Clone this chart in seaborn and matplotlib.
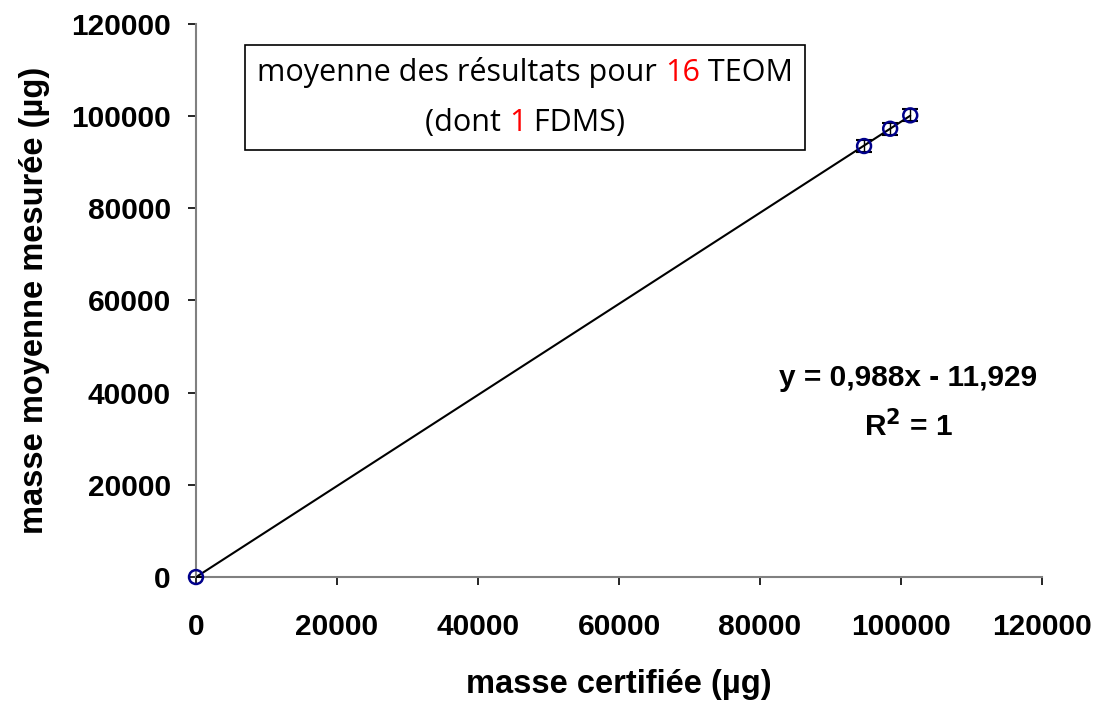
import numpy as np
import pandas as pd
import matplotlib
matplotlib.use("Agg")
import matplotlib.pyplot as plt
import seaborn as sns
from matplotlib.offsetbox import TextArea, HPacker, VPacker, AnchoredOffsetbox

# Certified vs. measured mass (µg)
masse_certifiee = [0, 94750, 98450, 101300]
masse_mesuree = [0, 93500, 97250, 100150]
ecart_type = [0, 1300, 1300, 1300]

# Linear trend reported on the chart
pente = 0.988
ordonnee = -11.929
r2 = 1

x_ticks = [0, 20000, 40000, 60000, 80000, 100000, 120000]
y_ticks = [0, 20000, 40000, 60000, 80000, 100000, 120000]

sns.set_theme(style="white")
plt.rcParams["font.family"] = ["Liberation Sans", "DejaVu Sans"]
plt.rcParams["text.color"] = "black"
plt.rcParams["axes.labelcolor"] = "black"
plt.rcParams["xtick.color"] = "black"
plt.rcParams["ytick.color"] = "black"

fig = plt.figure(figsize=(11.01, 7.02), dpi=100)
ax = fig.add_axes([0.178, 0.178, 0.7685, 0.788])

df = pd.DataFrame({"x": masse_certifiee, "y": masse_mesuree})

# trend line over the data range
xs = np.array([min(masse_certifiee), max(masse_certifiee)])
trend = pd.DataFrame({"x": xs, "y": pente * xs + ordonnee})
sns.lineplot(data=trend, x="x", y="y", color="black", linewidth=1.5, ax=ax, zorder=2)

ax.errorbar(masse_certifiee, masse_mesuree, yerr=ecart_type, fmt="none",
            ecolor="black", elinewidth=1.0, capsize=6, capthick=1.5, zorder=3)
sns.scatterplot(data=df, x="x", y="y", marker="o", s=100, facecolor="none",
                edgecolor="#00008B", linewidth=1.8, ax=ax, zorder=4, clip_on=False)

ax.set_xlim(0, 120000)
ax.set_ylim(0, 120000)
ax.set_xticks(x_ticks)
ax.set_yticks(y_ticks)
ax.set_xticklabels([str(v) for v in x_ticks], fontsize=21.5, fontweight="bold")
ax.set_yticklabels([str(v) for v in y_ticks], fontsize=21.5, fontweight="bold")
ax.tick_params(axis="both", direction="out", length=6, width=1.2,
               bottom=True, left=True)
for t in ax.xaxis.get_ticklines() + ax.yaxis.get_ticklines():
    t.set_color("#808080")
ax.tick_params(axis="x", pad=20)
ax.tick_params(axis="y", pad=12)

for side in ["top", "right"]:
    ax.spines[side].set_visible(False)
for side in ["left", "bottom"]:
    ax.spines[side].set_color("#808080")
    ax.spines[side].set_linewidth(1.5)

ax.set_xlabel("masse certifiée (µg)", fontsize=23.5, fontweight="bold", labelpad=20)
ax.set_ylabel("masse moyenne mesurée (µg)", fontsize=23.5, fontweight="bold", labelpad=15)

# regression equation
ax.text(0.8416, 0.36, f"y = {pente:.3f}x - 11,929".replace(".", ","),
        transform=ax.transAxes, ha="center", va="center", fontsize=21.5, fontweight="bold")
ax.text(0.8416, 0.273, r"R$^\mathbf{2}$ = " + str(r2),
        transform=ax.transAxes, ha="center", va="center", fontsize=21.5, fontweight="bold")

# boxed note with highlighted counts
props = dict(fontsize=22, family=["Open Sans", "DejaVu Sans"])
def piece(s, color="black"):
    return TextArea(s, textprops=dict(color=color, **props))

line1 = HPacker(children=[piece("moyenne des résultats pour "), piece("16", "red"),
                          piece(" TEOM")], align="baseline", pad=0, sep=0)
line2 = HPacker(children=[piece("(dont "), piece("1", "red"), piece(" FDMS)")],
                align="baseline", pad=0, sep=0)
block = VPacker(children=[line1, line2], align="center", pad=0, sep=14)
box = AnchoredOffsetbox(loc="center", child=block, pad=0.45, frameon=True,
                        bbox_to_anchor=(0.477, 0.861), bbox_transform=fig.transFigure,
                        borderpad=0, prop=dict(size=20))
box.patch.set_edgecolor("black")
box.patch.set_linewidth(1.2)
box.patch.set_boxstyle("square", pad=0)
fig.add_artist(box)

fig.savefig("out.png", dpi=100, facecolor="white")
